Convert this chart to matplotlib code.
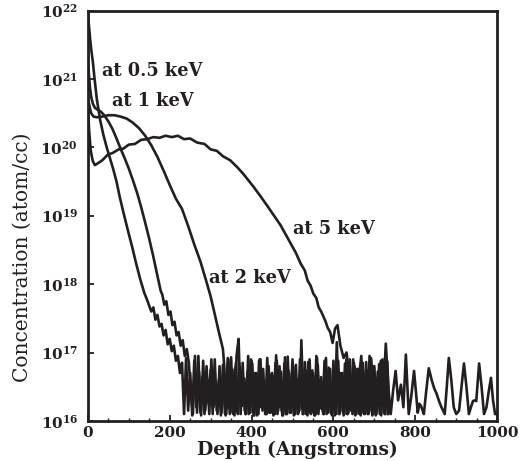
import numpy as np
import matplotlib
matplotlib.use('Agg')
from matplotlib import pyplot as plt
from matplotlib.ticker import FixedLocator, FuncFormatter, MultipleLocator, NullLocator

plt.rcParams['font.family'] = ['DejaVu Serif']
plt.rcParams['mathtext.fontset'] = 'custom'
plt.rcParams['mathtext.rm'] = 'DejaVu Serif'
plt.rcParams['mathtext.bf'] = 'DejaVu Serif:bold'
plt.rcParams['path.simplify'] = False

### SIMS depth profiles, log10 of concentration (atom/cc) against depth (Angstroms)

# 0.5 keV implant
depth_05 = [0, 2, 5, 8, 12, 16, 22, 30, 38, 46, 54, 62, 70, 78, 88, 98, 108, 118, 128, 138, 146]
conc_05 = [21.98, 21.82, 21.62, 21.44, 21.26, 21.02, 20.7, 20.4, 20.18, 20.0, 19.84, 19.68, 19.5, 19.27,
           19.02, 18.78, 18.55, 18.3, 18.07, 17.87, 17.75]
tail_05 = [17.68, 17.6, 17.66, 17.48, 17.55, 17.38, 17.42, 17.25, 17.33, 17.12, 17.2, 17.02, 17.1, 16.88, 16.95, 16.7,
           16.85, 16.1, 16.92, 16.15, 16.7, 16.08, 16.88, 16.2, 16.95, 16.12, 16.65, 16.1, 16.8, 16.25, 16.75, 16.1, 16.9, 16.15, 16.6, 16.08,
           16.82, 16.1, 16.7, 16.18, 16.93, 16.1, 16.78, 16.12, 16.85, 16.3, 16.55, 16.1, 16.72, 16.15, 16.88, 16.08, 16.66, 16.1, 16.9, 16.22,
           16.58, 16.1, 16.8, 16.12, 16.7, 16.1, 16.96, 16.15, 16.62, 16.08, 16.84, 16.1, 16.74, 16.2, 16.9, 16.1, 16.6, 16.12, 16.78, 16.1,
           16.86, 16.15, 16.55, 16.1, 16.7, 16.08, 16.92, 16.25, 16.64, 16.1, 16.8, 16.12, 16.48, 16.1, 16.88, 16.15, 16.7, 16.1, 16.58, 16.08,
           16.82, 16.1, 16.9, 16.2, 16.68, 16.1, 16.76, 16.12, 16.52, 16.1, 16.86, 16.15, 16.62, 16.08, 16.8, 16.1, 16.7, 16.18, 16.9, 16.1,
           16.75, 16.12]
tail_05_start = 150.0

# 1 keV implant
depth_1 = [0, 2, 5, 8, 12, 17, 24, 32, 40, 50, 60, 70, 80, 90, 100, 110, 120, 130, 140, 150, 160, 170, 178]
conc_1 = [21.3, 21.1, 20.88, 20.74, 20.64, 20.58, 20.55, 20.52, 20.47, 20.38, 20.27, 20.13, 19.98, 19.84, 19.69,
          19.52, 19.34, 19.13, 18.9, 18.66, 18.4, 18.12, 17.9]
tail_1 = [17.85, 17.7, 17.75, 17.55, 17.6, 17.4, 17.45, 17.25, 17.3, 17.1, 17.18, 16.95, 17.05, 16.85,
          16.4, 16.1, 16.95, 16.12, 16.72, 16.08, 16.88, 16.15, 16.6, 16.1, 16.9, 16.2, 16.45, 16.1, 16.8, 16.12, 16.65, 16.08, 16.92, 16.1,
          16.7, 16.15, 16.85, 16.1, 16.78, 16.22, 16.62, 16.1, 16.95, 16.12, 16.84, 16.08, 16.7, 16.1, 16.9, 16.15, 16.55, 16.1, 16.8, 16.12,
          16.66, 16.1, 16.88, 16.2, 16.72, 16.08, 16.93, 16.1, 16.42, 16.12, 16.8, 16.1, 16.6, 16.15, 17.18, 16.1, 16.74, 16.08, 16.9, 16.12,
          16.65, 16.1, 16.82, 16.18, 16.55, 16.1, 16.92, 16.12, 16.76, 16.08, 16.62, 16.1, 16.88, 16.15, 16.7, 16.1, 16.9, 16.12, 16.58, 16.1,
          16.8, 16.2, 16.68, 16.08, 16.85, 16.1, 16.74, 16.12, 16.92, 16.1, 16.64, 16.15, 16.83, 16.08, 16.78, 16.1, 16.87, 16.12]
tail_1_start = 181.7

# 2 keV implant
depth_2 = [0, 4, 8, 14, 22, 35, 50, 65, 80, 95, 110, 125, 140, 155, 170, 185, 200, 215, 230, 245, 260, 275, 288,
           300, 310, 320, 330]
conc_2 = [20.72, 20.6, 20.5, 20.45, 20.44, 20.45, 20.47, 20.47, 20.45, 20.42, 20.36, 20.28, 20.17, 20.03, 19.86,
          19.66, 19.45, 19.25, 19.1, 18.85, 18.58, 18.33, 18.07, 17.82, 17.56, 17.3, 17.05]
tail_2 = [16.8, 16.1, 16.9, 16.12, 16.75, 16.08, 16.95, 17.2, 16.1, 16.85, 16.15, 16.62, 16.1, 16.9, 16.12, 16.7, 16.08, 16.88, 16.2, 16.76,
          16.1, 16.92, 16.12, 16.68, 16.08, 16.85, 16.1, 16.8, 16.15, 16.58, 16.1, 16.94, 16.12, 16.7, 16.08, 16.82, 16.1, 16.9, 16.18, 16.66,
          16.1, 16.86, 16.12, 16.74, 16.08, 16.95, 16.1, 16.6, 16.15, 16.88, 16.1, 16.78, 16.12, 16.52, 16.08, 17.15, 16.1, 16.7, 16.12, 16.84,
          16.1, 16.62, 16.15, 16.9, 16.08, 16.76, 16.1, 16.86, 16.12, 16.7, 16.1, 16.95, 16.15, 16.8, 16.08, 16.72, 16.1, 16.88, 16.12, 16.65,
          16.1]
tail_2_start = 333.3

# 5 keV implant
depth_5 = [0, 3, 7, 12, 17, 25, 35, 48, 61, 75, 86, 100, 115, 130, 145, 160, 175, 190, 205, 220, 235, 250, 267, 285,
           300, 315, 330, 348, 365, 380, 392, 404, 420, 439, 455, 471, 484, 495, 508, 520, 530, 537, 544, 551, 558,
           564, 570, 576, 581, 586, 592, 598, 604, 610, 617, 625, 632,
           638, 644, 650, 656, 662, 668, 674, 680, 686, 692, 698, 704, 710, 716, 722, 728, 734, 740, 746, 752, 758,
           765, 771, 777, 784, 790, 797, 802, 806, 810, 814, 818, 821, 827, 833, 840, 846, 852, 858, 864, 868, 872,
           877, 882, 888, 894, 900, 907, 913, 919, 925, 931, 936, 941, 945, 949, 956, 962, 968, 974, 980, 985, 990,
           995, 1000]
conc_5 = [20.6, 20.25, 19.95, 19.8, 19.74, 19.77, 19.81, 19.89, 19.92, 19.97, 19.98, 20.04, 20.05, 20.11, 20.12,
          20.15, 20.14, 20.17, 20.15, 20.17, 20.12, 20.13, 20.07, 20.05, 19.97, 19.95, 19.87, 19.81, 19.71, 19.61,
          19.52, 19.43, 19.3, 19.14, 19.0, 18.86, 18.72, 18.6, 18.46, 18.3, 18.2, 18.05, 17.98, 17.86, 17.8,
          17.66, 17.6, 17.52, 17.45, 17.36, 17.3, 17.14, 17.35, 17.4, 17.1, 16.92, 17.0,
          16.7, 16.3, 16.85, 16.1, 16.6, 16.95, 16.2, 16.75, 16.1, 16.9, 16.45, 16.1, 16.65, 16.88, 16.4, 17.13, 16.5,
          16.1, 16.45, 16.73, 16.3, 16.53, 16.2, 16.97, 16.1, 16.35, 16.73, 16.4, 16.12, 16.25, 16.22, 16.15, 16.1,
          16.45, 16.77, 16.6, 16.48, 16.4, 16.29, 16.2, 16.15, 16.1, 16.5, 16.92, 16.6, 16.2, 16.1, 16.15, 16.5,
          16.84, 16.5, 16.1, 16.2, 16.29, 16.3, 16.29, 16.84, 16.5, 16.1, 16.2, 16.45, 16.63, 16.3, 16.1, 16.1]

labels = ['at 0.5 keV', 'at 1 keV', 'at 2 keV', 'at 5 keV']
label_depth = [34, 59, 296, 502]
label_conc = [21.11, 20.68, 18.09, 18.81]

x_ticks = [0, 200, 400, 600, 800, 1000]
y_ticks = [16, 17, 18, 19, 20, 21, 22]

### join the measured profile with its noise floor tail
def build_profile(depth, conc, tail, start):
    tail_depth = start + 5 * np.arange(len(tail))
    d = np.concatenate([np.array(depth, float), tail_depth])
    c = np.concatenate([np.array(conc, float), np.array(tail, float)])
    return d, 10 ** c

profiles = [build_profile(depth_05, conc_05, tail_05, tail_05_start),
            build_profile(depth_1, conc_1, tail_1, tail_1_start),
            build_profile(depth_2, conc_2, tail_2, tail_2_start),
            (np.array(depth_5, float), 10 ** np.array(conc_5))]

fig = plt.figure(figsize=(5.2, 4.61), dpi=100)
ax = fig.add_axes([0.169, 0.087, 0.787, 0.890])

ink = '#231f20'
for d, c in profiles:
    ax.plot(d, c, color=ink, lw=1.9)

ax.set_yscale('log')
ax.set_xlim(0, 1000)
ax.set_ylim(1e16, 1e22)

ax.xaxis.set_major_locator(FixedLocator(x_ticks))
ax.xaxis.set_minor_locator(MultipleLocator(50))
ax.yaxis.set_major_locator(FixedLocator([10.0 ** e for e in y_ticks]))
ax.yaxis.set_minor_locator(NullLocator())
ax.yaxis.set_major_formatter(FuncFormatter(lambda v, p: r'$\mathbf{10^{%d}}$' % round(np.log10(v))))

ax.tick_params(axis='both', which='major', direction='in', length=4, width=1.3, colors=ink,
               labelsize=11, top=False, right=False)
ax.tick_params(axis='x', which='minor', direction='in', length=2.5, width=1.0, colors=ink, top=False)
ax.tick_params(axis='x', pad=4)
ax.tick_params(axis='y', pad=7)
for lab in ax.get_xticklabels():
    lab.set_fontweight('bold')

for s in ax.spines.values():
    s.set_linewidth(2.0)
    s.set_color(ink)

for t, d, c in zip(labels, label_depth, label_conc):
    ax.text(d, 10 ** c, t, fontsize=12.8, fontweight='bold', color=ink, ha='left', va='center')

fig.text(297 / 520, 1 - 450 / 461, 'Depth (Angstroms)', fontsize=13.5, fontweight='bold', color=ink,
         ha='center', va='center')
fig.text(22 / 520, 1 - 257 / 461, 'Concentration (atom/cc)', fontsize=14.5, color=ink,
         rotation=90, ha='center', va='center')

fig.savefig('out.png', dpi=100)
